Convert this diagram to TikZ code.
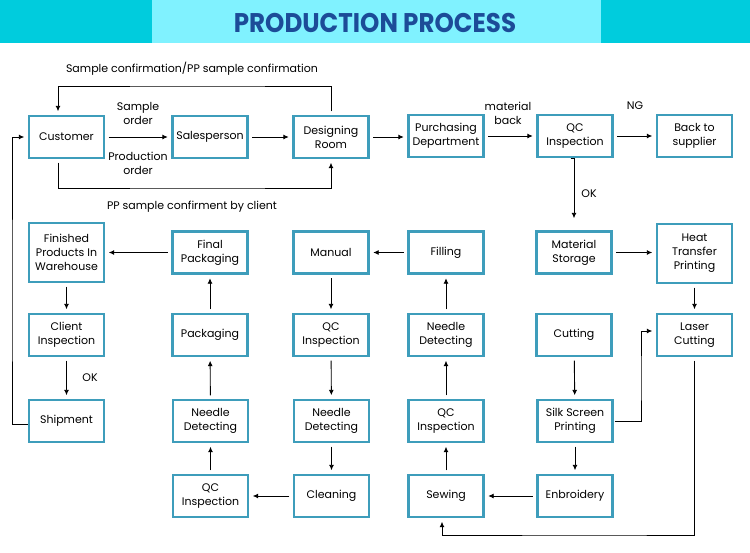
\documentclass[tikz,border=0pt]{standalone}
\usepackage{fontspec}
\usepackage{graphicx}
\setmainfont{Poppins}
\usetikzlibrary{arrows.meta}
\definecolor{titledark}{HTML}{00CCDD}
\definecolor{titlelight}{HTML}{80F2FF}
\definecolor{titletext}{HTML}{1C4C98}
\definecolor{boxc}{HTML}{3E9DBB}
\tikzset{
  box/.style={draw=boxc, line width=2.4pt, minimum width=75pt, minimum height=42pt,
    inner sep=1pt, align=center, font=\fontsize{11}{14}\selectfont},
  tallbox/.style={box, minimum height=59pt},
  lbl/.style={align=center, font=\fontsize{11}{13.5}\selectfont, inner sep=0pt},
  ar/.style={-{Latex[length=5.5pt,width=5pt]}, line width=0.9pt, shorten >=3.5pt, shorten <=3.5pt},
}
\begin{document}
\begin{tikzpicture}[x=1pt,y=-1pt]
\useasboundingbox (0,0) rectangle (750,552);
\fill[white] (0,0) rectangle (750,552);
% title band
\fill[titledark] (0,0) rectangle (152,43);
\fill[titlelight] (152,0) rectangle (601,43);
\fill[titledark] (601,0) rectangle (750,43);
\node[text=titletext, font=\fontsize{27}{30}\bfseries\selectfont, inner sep=0pt] (title) at (375,22.5)
  {\scalebox{0.91}[1]{PRODUCTION PROCESS}};

% row 1
\node[box] (cust) at (66.5,137) {Customer};
\node[box] (sales) at (210,137) {Salesperson};
\node[box] (design) at (331,137) {Designing\\Room};
\node[box] (purch) at (446,136) {Purchasing\\Department};
\node[box] (qca) at (575,136) {QC\\Inspection};
\node[box] (back) at (694.5,136) {Back to\\supplier};
% row 2
\node[tallbox] (fin) at (66.5,252.5) {Finished\\Products In\\Warehouse};
\node[box] (fpack) at (210,252.5) {Final\\Packaging};
\node[box] (manual) at (331,252.5) {Manual};
\node[box] (fill) at (446,252.5) {Filling};
\node[box] (mat) at (574,252.5) {Material\\Storage};
\node[tallbox] (heat) at (694.5,253.5) {Heat\\Transfer\\Printing};
% row 3
\node[box] (client) at (66.5,335) {Client\\Inspection};
\node[box] (pack) at (210,335) {Packaging};
\node[box] (qcb) at (331,335) {QC\\Inspection};
\node[box] (needa) at (446,335) {Needle\\Detecting};
\node[box] (cut) at (574,335) {Cutting};
\node[box] (laser) at (694.5,335) {Laser\\Cutting};
% row 4
\node[box] (ship) at (66.5,421) {Shipment};
\node[box] (needb) at (210.5,421) {Needle\\Detecting};
\node[box] (needc) at (331.5,421) {Needle\\Detecting};
\node[box] (qcc) at (446,421) {QC\\Inspection};
\node[box] (silk) at (575,421) {Silk Screen\\Printing};
% row 5
\node[box] (qcd) at (210.5,496) {QC\\Inspection};
\node[box] (clean) at (331.5,496) {Cleaning};
\node[box] (sew) at (446,496) {Sewing};
\node[box] (emb) at (575,496) {Enbroidery};

% labels
\node[lbl] (l1) at (192,69) {Sample confirmation/PP sample confirmation};
\node[lbl] (l2) at (138,113.5) {Sample\\order};
\node[lbl] (l3) at (138,163.5) {Production\\order};
\node[lbl] (l4) at (508,113.5) {material\\back};
\node[lbl] (l5) at (635,106) {NG};
\node[lbl] (l6) at (589,194) {OK};
\node[lbl] (l7) at (192,207) {PP sample confirment by client};
\node[lbl] (l8) at (90,378) {OK};

% bend points
\coordinate (topB) at (200,86);
\coordinate (botB) at (200,188);
\coordinate (leftB) at (12,300);
\coordinate (silkB) at (641,380);
\coordinate (lowB) at (600,535);

% connectors row 1
\draw[ar] (design.north) |- (topB) -| ([xshift=-8.5pt]cust.north);
\draw[ar] ([xshift=-8.5pt]cust.south) |- (botB) -| (design.south);
\draw[ar] (cust) -- (sales);
\draw[ar] (sales) -- (design);
\draw[ar] (design.east) -- (purch.west |- design.east);
\draw[ar] (purch) -- (qca);
\draw[ar] (qca) -- (back);
\draw[ar, shorten >=12pt] (qca) -- (mat.north |- qca.south) -- ([yshift=0pt]mat.north);
% right side
\draw[ar] (mat) -- (heat.west |- mat.east);
\draw[ar] (heat) -- (laser);
\draw[ar] (cut) -- (silk);
\draw[ar, shorten <=1pt] (silk.east) -| (silkB) |- ([yshift=4pt]laser.west);
\draw[ar] (silk) -- (emb);
\draw[ar] (laser.south) |- (lowB) -| ([xshift=-4pt]sew.south);
\draw[ar] (emb) -- (sew);
\draw[ar] (sew) -- (qcc);
\draw[ar] (qcc) -- (needa);
\draw[ar] (needa) -- (fill);
\draw[ar] (fill) -- (manual);
\draw[ar] (manual) -- (qcb);
\draw[ar] (qcb) -- (needc);
\draw[ar] (needc) -- (clean);
\draw[ar] (clean) -- (qcd);
\draw[ar] (qcd) -- (needb);
\draw[ar] (needb) -- (pack);
\draw[ar] (pack) -- (fpack);
\draw[ar] (fpack) -- (fin.east |- fpack.west);
\draw[ar] (fin) -- (client);
\draw[ar] (client) -- (ship);
\draw[ar, shorten <=0pt] ([yshift=-3pt]ship.west) -| (leftB) |- (cust.west);
\end{tikzpicture}
\end{document}
